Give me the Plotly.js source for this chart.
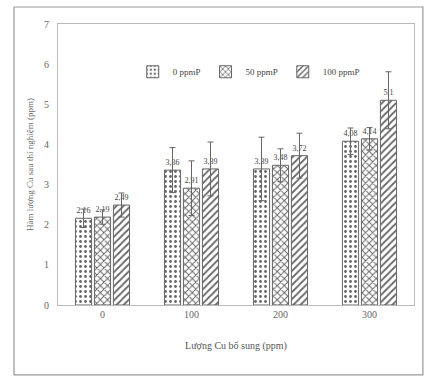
<!DOCTYPE html>
<html>
<head>
<meta charset="utf-8">
<script src="https://cdn.plot.ly/plotly-3.0.1.min.js"></script>
<style>html,body{margin:0;padding:0;background:#fff;}#chart{width:424px;height:376px;}</style>
</head>
<body>
<div id="chart"></div>
<script>
const categories = ["0", "100", "200", "300"];
const seriesNames = ["0 ppmP", "50 ppmP", "100 ppmP"];
const values0 = [2.16, 3.36, 3.39, 4.08];
const values50 = [2.19, 2.91, 3.48, 4.14];
const values100 = [2.49, 3.39, 3.72, 5.1];
const errors0 = [0.23, 0.56, 0.79, 0.33];
const errors50 = [0.18, 0.68, 0.41, 0.28];
const errors100 = [0.30, 0.67, 0.56, 0.71];
const yTicks = [0, 1, 2, 3, 4, 5, 6, 7];

const fmt = v => String(v).replace('.', ',');
const shapes = [".", "x", "/"];
const solid = [0.25, 0.35, 0.35];
const allVals = [values0, values50, values100];
const allErr = [errors0, errors50, errors100];
const font = "Liberation Serif, Times New Roman, serif";

const traces = allVals.map((vals, i) => ({
  type: 'bar',
  name: seriesNames[i],
  x: categories,
  y: vals,
  text: vals.map(fmt),
  textposition: 'outside',
  cliponaxis: false,
  textfont: {family: font, size: 8, color: '#444'},
  error_y: {type: 'data', array: allErr[i], visible: true, color: '#666', thickness: 1, width: 3},
  marker: {
    color: '#ffffff',
    line: {color: '#666', width: 1},
    pattern: {shape: shapes[i], fgcolor: '#666', bgcolor: '#fff', size: 5, solidity: solid[i]}
  }
}));

const layout = {
  width: 424, height: 376,
  margin: {l: 58, r: 10, t: 24, b: 71},
  paper_bgcolor: '#fff', plot_bgcolor: '#fff',
  barmode: 'group', bargap: 0.36, bargroupgap: 0.15,
  showlegend: true,
  legend: {orientation: 'h', x: 0.21, y: 0.83, xanchor: 'left', yanchor: 'middle',
    font: {family: font, size: 9, color: '#444'}, bgcolor: 'rgba(0,0,0,0)', itemwidth: 30},
  xaxis: {
    type: 'category', showgrid: false, showline: true, linecolor: '#bbb', mirror: true,
    ticks: '', tickfont: {family: font, size: 10, color: '#666'},
    title: {text: 'Lượng Cu bổ sung (ppm)', font: {family: font, size: 10, color: '#555'}, standoff: 22}
  },
  yaxis: {
    range: [0, 7], tickvals: yTicks, showgrid: false, showline: true, linecolor: '#bbb', mirror: true,
    zeroline: false, ticks: '', tickfont: {family: font, size: 10, color: '#666'}, ticklabelstandoff: 6,
    title: {text: 'Hàm lượng Cu sau thí nghiệm (ppm)', font: {family: font, size: 9, color: '#666'}, standoff: 8}
  },
  shapes: [{type: 'rect', xref: 'paper', yref: 'paper', x0: -0.1236, x1: 1.025, y0: -0.249, y1: 1.0605,
    line: {color: '#999', width: 1.2}, fillcolor: 'rgba(0,0,0,0)'}]
};

Plotly.newPlot('chart', traces, layout, {displayModeBar: false, staticPlot: true});
</script>
</body>
</html>
